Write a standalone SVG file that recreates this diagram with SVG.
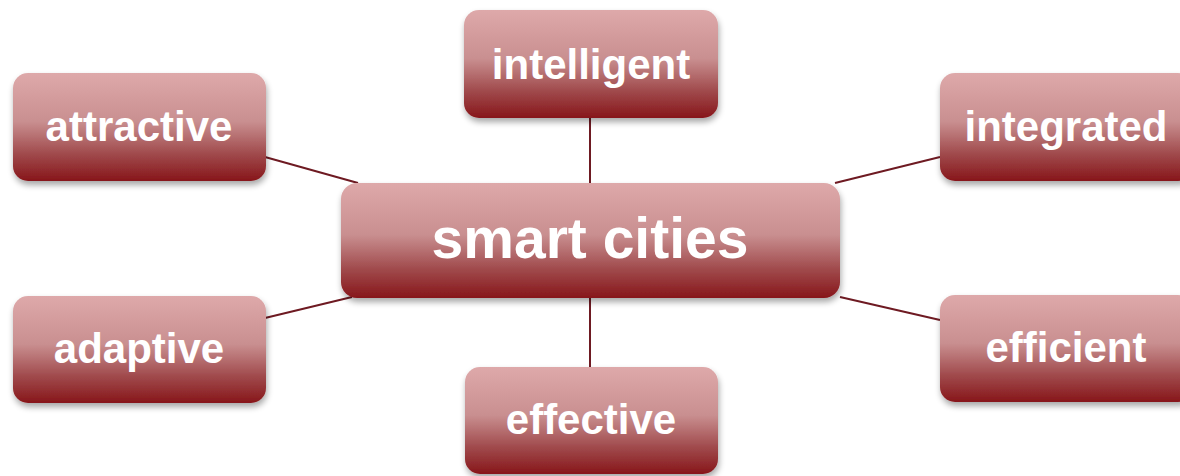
<svg xmlns="http://www.w3.org/2000/svg" width="1180" height="476" viewBox="0 0 1180 476">
  <defs>
    <linearGradient id="boxFill" x1="0" y1="0" x2="0" y2="1">
      <stop offset="0" stop-color="#dea9aa"/>
      <stop offset="0.45" stop-color="#c98f90"/>
      <stop offset="0.75" stop-color="#a04a4c"/>
      <stop offset="1" stop-color="#87161a"/>
    </linearGradient>
    <filter id="boxShadow" x="-10%" y="-10%" width="120%" height="130%">
      <feGaussianBlur in="SourceAlpha" stdDeviation="3"/>
      <feOffset dx="1" dy="4" result="blur"/>
      <feComponentTransfer><feFuncA type="linear" slope="0.35"/></feComponentTransfer>
      <feMerge><feMergeNode/><feMergeNode in="SourceGraphic"/></feMerge>
    </filter>
  </defs>
  <style>
    .box { fill: url(#boxFill); filter: url(#boxShadow); }
    .label { fill: #ffffff; font-family: "Liberation Sans", Arial, sans-serif; font-weight: bold; text-anchor: middle; }
    .small { font-size: 42px; }
    .big { font-size: 57px; }
    .link { stroke: #6e1a22; stroke-width: 2; fill: none; }
  </style>
  <rect width="1180" height="476" fill="#ffffff"/>

  <!-- connectors from the hub to each satellite -->
  <g id="connectors">
    <line class="link" x1="265" y1="157" x2="358" y2="183"/>
    <line class="link" x1="590" y1="118" x2="590" y2="183"/>
    <line class="link" x1="940" y1="157" x2="835" y2="183"/>
    <line class="link" x1="265" y1="318" x2="352" y2="297"/>
    <line class="link" x1="940" y1="320" x2="840" y2="297"/>
    <line class="link" x1="590" y1="298" x2="590" y2="367"/>
  </g>

  <g id="node-smart-cities">
    <rect class="box" x="341" y="183" width="499" height="115" rx="16"/>
    <text class="label big" x="590" y="258">smart cities</text>
  </g>
  <g id="node-intelligent">
    <rect class="box" x="464" y="10" width="254" height="108" rx="15"/>
    <text class="label small" x="591" y="79">intelligent</text>
  </g>
  <g id="node-attractive">
    <rect class="box" x="13" y="73" width="253" height="108" rx="15"/>
    <text class="label small" x="139" y="141">attractive</text>
  </g>
  <g id="node-integrated">
    <rect class="box" x="940" y="73" width="253" height="108" rx="15"/>
    <text class="label small" x="1066" y="141">integrated</text>
  </g>
  <g id="node-adaptive">
    <rect class="box" x="13" y="296" width="253" height="107" rx="15"/>
    <text class="label small" x="139" y="363">adaptive</text>
  </g>
  <g id="node-efficient">
    <rect class="box" x="940" y="295" width="253" height="107" rx="15"/>
    <text class="label small" x="1066" y="362">efficient</text>
  </g>
  <g id="node-effective">
    <rect class="box" x="465" y="367" width="253" height="107" rx="15"/>
    <text class="label small" x="591" y="434">effective</text>
  </g>
</svg>
